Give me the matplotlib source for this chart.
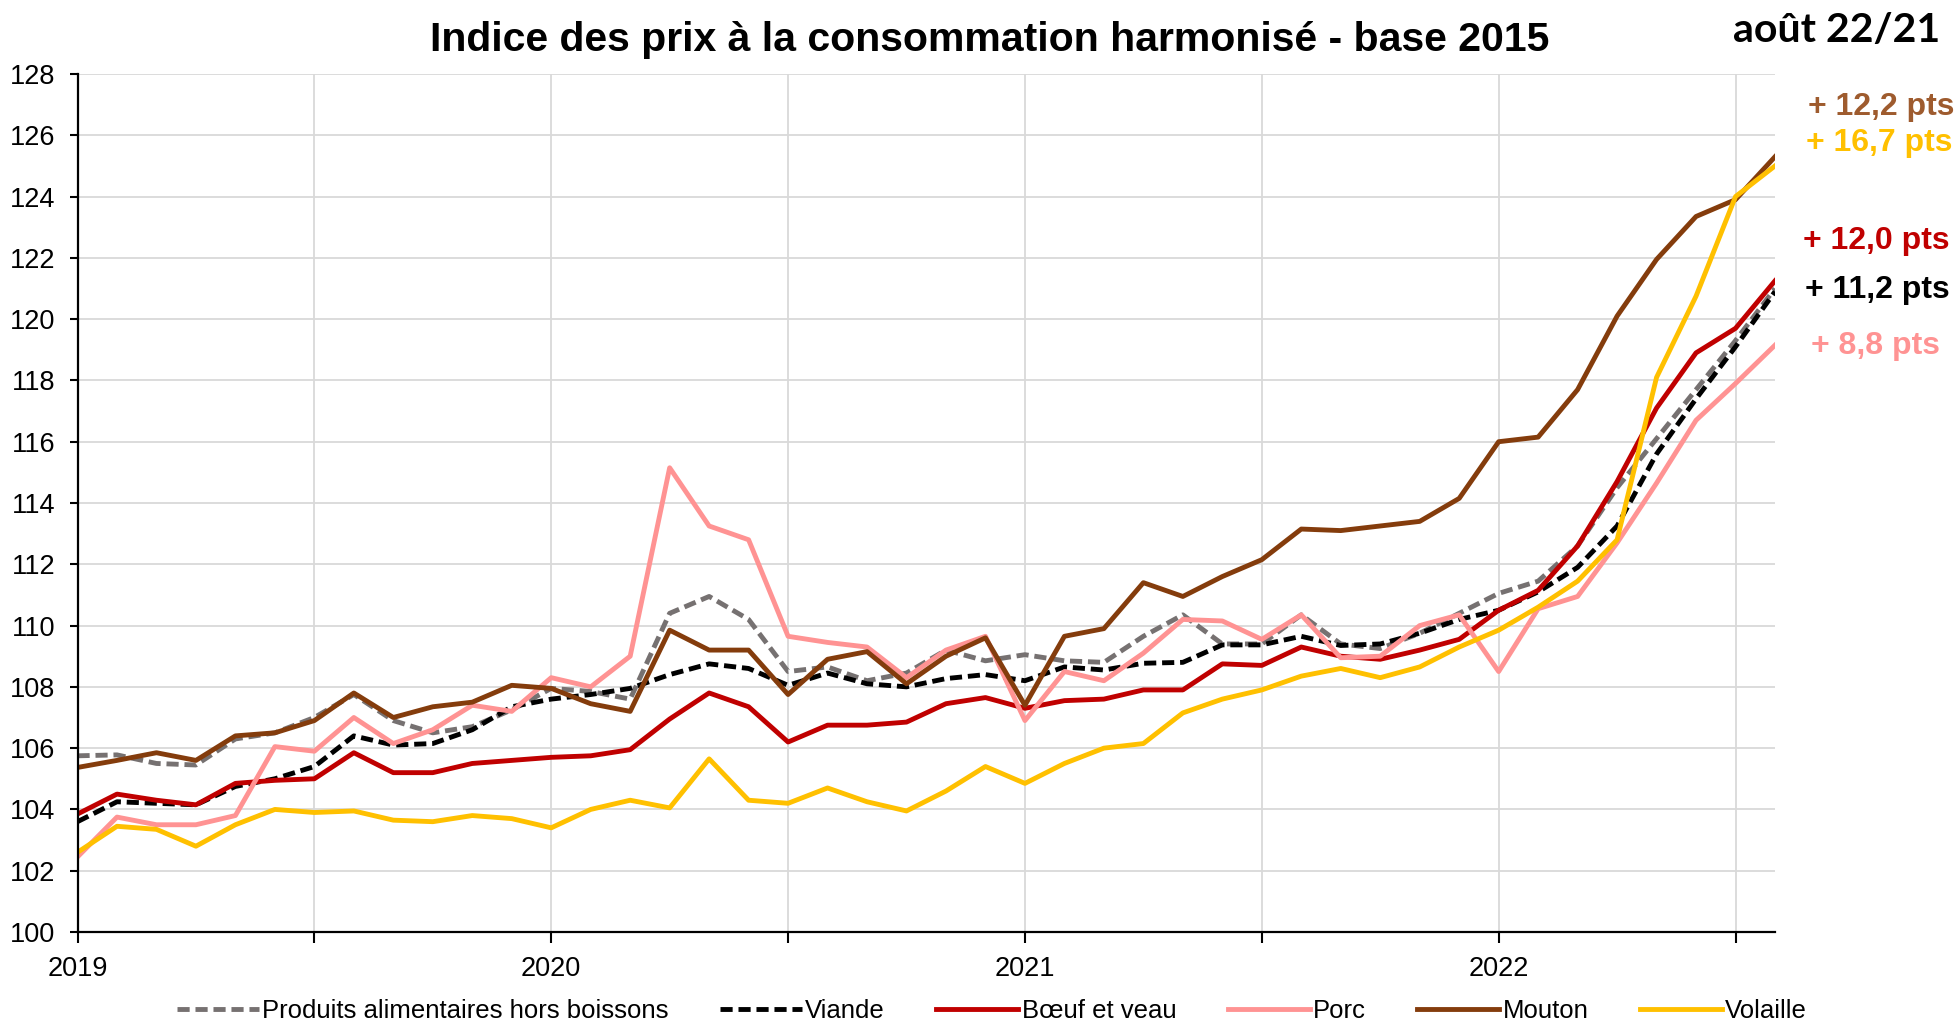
import numpy as np
import matplotlib
matplotlib.use("Agg")
import matplotlib.pyplot as plt

plt.rcParams['font.family'] = ['Liberation Sans', 'DejaVu Sans']

# monthly index, Jan 2019 -> Aug 2022
months = np.arange(44)
year_labels = ['2019', '', '2020', '', '2021', '', '2022', '']

alim = [105.75, 105.78, 105.5, 105.45, 106.3, 106.5, 107.0, 107.75, 106.9, 106.5, 106.7, 107.25,
        107.95, 107.85, 107.6, 110.4, 110.95, 110.2, 108.5, 108.65, 108.2, 108.45, 109.2, 108.85,
        109.05, 108.85, 108.8, 109.65, 110.35, 109.4, 109.4, 110.35, 109.4, 109.25, 109.75, 110.4,
        111.05, 111.45, 112.6, 114.5, 116.1, 117.7, 119.3, 121.0]
viande = [103.6, 104.25, 104.2, 104.15, 104.75, 105.0, 105.4, 106.4, 106.1, 106.15, 106.6, 107.35,
          107.6, 107.75, 107.95, 108.4, 108.75, 108.6, 108.05, 108.45, 108.1, 108.0, 108.27, 108.4,
          108.2, 108.65, 108.55, 108.77, 108.8, 109.37, 109.37, 109.65, 109.35, 109.4, 109.75, 110.2,
          110.5, 111.1, 111.9, 113.25, 115.6, 117.4, 119.1, 120.9]
boeuf = [103.85, 104.5, 104.3, 104.15, 104.85, 104.95, 105.0, 105.85, 105.2, 105.2, 105.5, 105.6,
         105.7, 105.75, 105.95, 106.95, 107.8, 107.35, 106.2, 106.75, 106.75, 106.85, 107.45, 107.65,
         107.3, 107.55, 107.6, 107.9, 107.9, 108.75, 108.7, 109.3, 109.0, 108.9, 109.2, 109.55,
         110.5, 111.15, 112.6, 114.7, 117.1, 118.9, 119.7, 121.25]
porc = [102.45, 103.75, 103.5, 103.5, 103.8, 106.05, 105.9, 107.0, 106.15, 106.6, 107.4, 107.2,
        108.3, 108.0, 109.0, 115.15, 113.25, 112.8, 109.65, 109.45, 109.3, 108.3, 109.2, 109.65,
        106.9, 108.5, 108.2, 109.1, 110.2, 110.15, 109.55, 110.35, 108.95, 109.0, 110.0, 110.35,
        108.5, 110.55, 110.95, 112.7, 114.65, 116.7, 117.9, 119.15]
mouton = [105.37, 105.6, 105.85, 105.6, 106.4, 106.5, 106.9, 107.8, 107.0, 107.35, 107.5, 108.05,
          107.95, 107.45, 107.2, 109.85, 109.2, 109.2, 107.75, 108.9, 109.15, 108.1, 109.0, 109.6,
          107.4, 109.65, 109.9, 111.4, 110.95, 111.6, 112.15, 113.15, 113.1, 113.25, 113.4, 114.15,
          116.0, 116.15, 117.7, 120.1, 121.95, 123.35, 123.9, 125.3]
volaille = [102.6, 103.45, 103.35, 102.8, 103.5, 104.0, 103.9, 103.95, 103.65, 103.6, 103.8, 103.7,
            103.4, 104.0, 104.3, 104.05, 105.65, 104.3, 104.2, 104.7, 104.25, 103.95, 104.6, 105.4,
            104.85, 105.5, 106.0, 106.15, 107.15, 107.6, 107.9, 108.35, 108.6, 108.3, 108.65, 109.3,
            109.85, 110.6, 111.45, 112.8, 118.1, 120.75, 124.0, 125.0]

variations = ['+ 12,2 pts', '+ 16,7 pts', '+ 12,0 pts', '+ 11,2 pts', '+ 8,8 pts']

fig = plt.figure(figsize=(19.6, 10.22), dpi=100)
ax = fig.add_axes([77.5 / 1960, 1 - 932 / 1022, (1775 - 77.5) / 1960, (932 - 74) / 1022])

lw = 3.5
ax.plot(months, alim, color='#767171', lw=lw, dashes=(2.5, 1.2), label='Produits alimentaires hors boissons')
ax.plot(months, viande, color='black', lw=lw, dashes=(2.5, 1.2), label='Viande')
ax.plot(months, boeuf, color='#C00000', lw=lw, label='Bœuf et veau', solid_joinstyle='round')
ax.plot(months, porc, color='#FF9393', lw=lw, label='Porc', solid_joinstyle='round')
ax.plot(months, mouton, color='#843C0C', lw=lw, label='Mouton', solid_joinstyle='round')
ax.plot(months, volaille, color='#FFC000', lw=lw, label='Volaille', solid_joinstyle='round')

ax.set_xlim(0, 43)
ax.set_ylim(100, 128)
ax.set_yticks(range(100, 129, 2))
ax.set_xticks(range(0, 43, 6))
ax.set_xticklabels(year_labels)
ax.grid(True, color='#D9D9D9', lw=1.3)
ax.set_axisbelow(True)
for s in ['top', 'right']:
    ax.spines[s].set_visible(False)
for s in ['left', 'bottom']:
    ax.spines[s].set_linewidth(1.6)
ax.tick_params(axis='y', labelsize=19.5, length=6, width=1.5, pad=10)
ax.tick_params(axis='x', labelsize=19.5, length=8, width=1.5, pad=9)

fig.legend(loc='lower center', bbox_to_anchor=(0.506, -0.024), ncol=6, frameon=False,
           fontsize=18.5, handlelength=3.2, handletextpad=0.12, columnspacing=2.0)

fig.text(990 / 1960, 1 - 40 / 1022, 'Indice des prix à la consommation harmonisé - base 2015',
         ha='center', va='center', fontsize=29.5, fontweight='bold')
fig.text(1940 / 1960, 1 - 31 / 1022, 'août 22/21', ha='right', va='center',
         fontsize=29.5, fontweight='bold', family=['Lato', 'DejaVu Sans'])

label_colors = ['#9E5B2E', '#FFC000', '#C00000', 'black', '#FF9393']
label_y = [107.5, 142.5, 241, 290, 346]
label_x = [1954, 1952, 1950, 1950, 1940]
for txt, c, yy, xx in zip(variations, label_colors, label_y, label_x):
    fig.text(xx / 1960, 1 - yy / 1022, txt, ha='right', va='center', fontsize=23,
             fontweight='bold', color=c)

fig.savefig('out.png', dpi=100)
